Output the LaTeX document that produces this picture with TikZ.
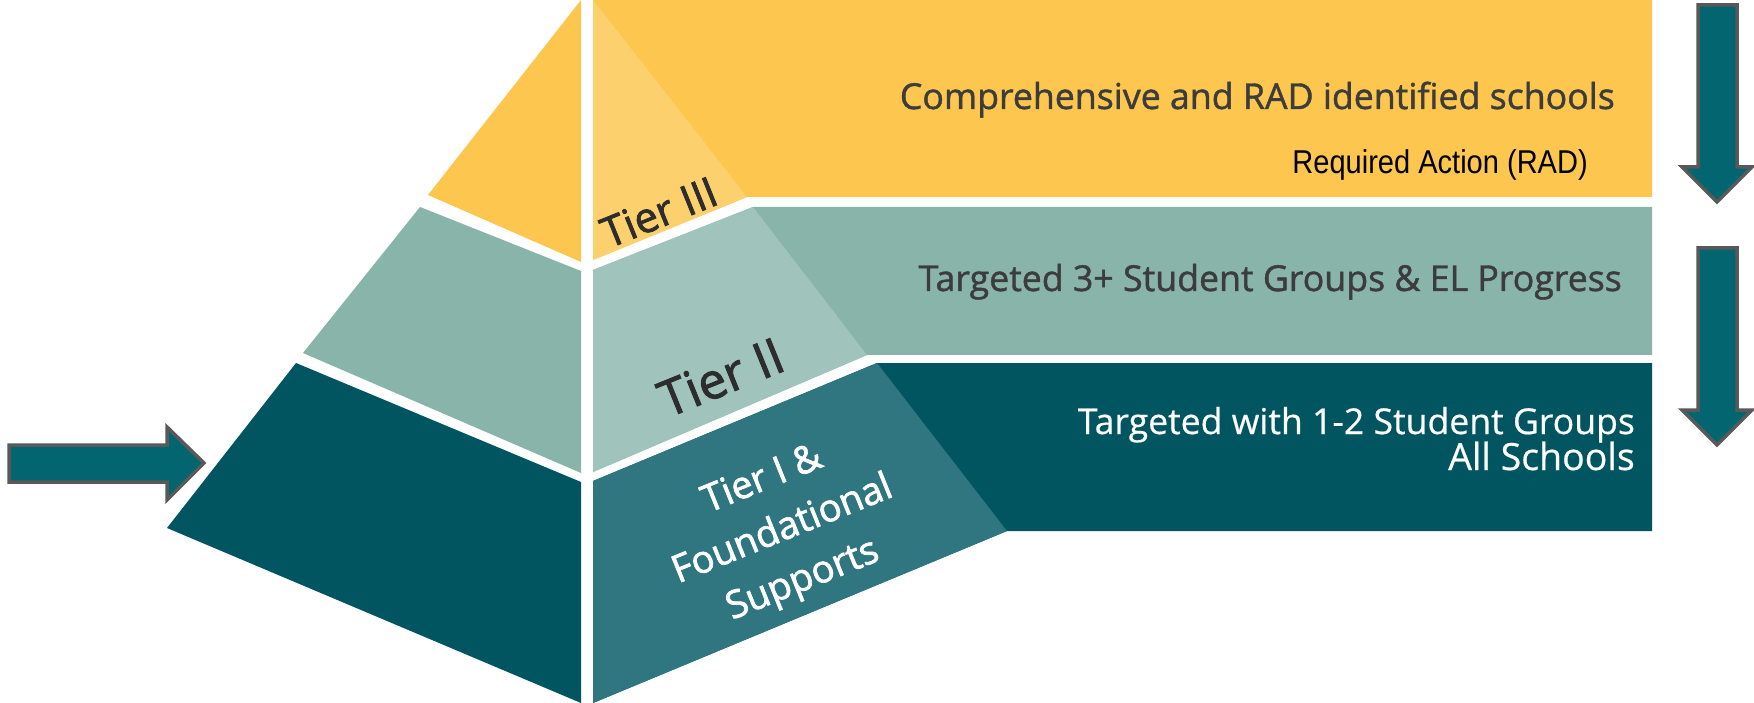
\documentclass[tikz,border=0pt]{standalone}
\usepackage{fontspec}
\setmainfont{Open Sans}
\newfontfamily\bandf{Open Sans}[FakeBold=1.2]
\newfontfamily\bandr{Open Sans}[FakeBold=0.5]
\newfontfamily\tierf{Open Sans}[FakeBold=1.8]
\newfontfamily\arialn{Liberation Sans}[FakeStretch=0.88]
\definecolor{ylw}{HTML}{FDC64E}
\definecolor{ylwl}{HTML}{FDD06E}
\definecolor{sage}{HTML}{88B4AA}
\definecolor{sagel}{HTML}{A0C4BC}
\definecolor{tdark}{HTML}{015560}
\definecolor{tlight}{HTML}{2F7680}
\definecolor{arrf}{HTML}{036570}
\definecolor{arrs}{HTML}{595959}
\definecolor{txtg}{HTML}{3C3C3C}
\definecolor{tiertxt}{HTML}{2D2D2D}
\begin{document}
\begin{tikzpicture}[x=1pt,y=-1pt,
  bandlbl/.style={inner sep=0pt, text=txtg, font=\bandf\fontsize{35.7}{44}\selectfont},
  whitelbl/.style={inner sep=0pt, text=white, font=\bandr\fontsize{35.6}{44}\selectfont},
  tierlbl/.style={inner sep=0pt, text=tiertxt, rotate=22},
  bigarrow/.style={fill=arrf, draw=arrs, line width=3.5pt, line join=miter}]
\useasboundingbox (0,0) rectangle (1754,703);
\fill[white] (0,0) rectangle (1754,703);
% left face
\fill[ylw] (581,0) -- (428,195) -- (581,262) -- cycle;
\fill[sage] (420,207) -- (581,271) -- (581,473) -- (303,353) -- cycle;
\fill[tdark] (296,363) -- (581,482) -- (581,703) -- (167,528) -- cycle;
% right face: bands
\fill[ylw] (593,0) -- (1652,0) -- (1652,197) -- (747,197) -- (593,260) -- cycle;
\fill[ylwl] (593,0) -- (747,197) -- (593,260) -- cycle;
\fill[sage] (593,270) -- (753,207) -- (1652,207) -- (1652,355) -- (867,355) -- (593,472) -- cycle;
\fill[sagel] (593,270) -- (753,207) -- (867,355) -- (593,472) -- cycle;
\fill[tdark] (593,481) -- (877,363) -- (1652,363) -- (1652,531) -- (1007,531) -- (593,703) -- cycle;
\fill[tlight] (593,481) -- (877,363) -- (1007,531) -- (593,703) -- cycle;
% arrows
\draw[bigarrow] (9,445) -- (167,445) -- (167,427) -- (204,463) -- (167,500) -- (167,482) -- (9,482) -- cycle;
\draw[bigarrow] (1698,5) -- (1737,5) -- (1737,167) -- (1752,167) -- (1717,202) -- (1682,167) -- (1698,167) -- cycle;
\draw[bigarrow] (1698,248) -- (1737,248) -- (1737,410) -- (1752,410) -- (1717,445) -- (1682,410) -- (1698,410) -- cycle;
% band labels
\node[bandlbl, anchor=base east] (comp) at (1615,109) {Comprehensive and RAD identified schools};
\node[inner sep=0pt, anchor=base east, font=\arialn\fontsize{33}{40}\selectfont] (rad) at (1588,174) {Required Action (RAD)};
\node[bandlbl, anchor=base east] (targ3) at (1622,291) {Targeted 3+ Student Groups \& EL Progress};
\node[whitelbl, anchor=base east] (targ12) at (1635,434) {Targeted with 1-2 Student Groups};
\node[whitelbl, anchor=base east, font=\bandr\fontsize{37.5}{44}\selectfont] (alls) at (1635,470) {All Schools};
% tier labels
\node[tierlbl, font=\tierf\fontsize{42}{48}\selectfont] (t3) at (659,212) {Tier III};
\node[tierlbl, font=\tierf\fontsize{50}{56}\selectfont] (t2) at (721,377) {Tier II};
\node[tierlbl, text=white, align=center, font=\tierf\fontsize{38}{54}\selectfont] (t1) at (783,531) {Tier I \&\\Foundational\\Supports};
\end{tikzpicture}
\end{document}
